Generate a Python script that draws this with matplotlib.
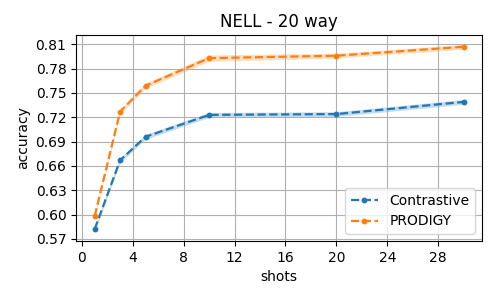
import numpy as np
import matplotlib
matplotlib.use('Agg')
import matplotlib.pyplot as plt

shots = [1, 3, 5, 10, 20, 30]
contrastive = np.array([0.582, 0.667, 0.696, 0.723, 0.724, 0.739])
contrastive_std = np.array([0.003, 0.003, 0.003, 0.003, 0.003, 0.003])
prodigy = np.array([0.598, 0.727, 0.759, 0.793, 0.796, 0.807])
prodigy_std = np.array([0.003, 0.003, 0.003, 0.004, 0.003, 0.003])

fig, ax = plt.subplots(figsize=(4.98, 2.99), dpi=100)
fig.subplots_adjust(left=0.153, right=0.968, top=0.883, bottom=0.194)

for vals, std, name, c in [(contrastive, contrastive_std, 'Contrastive', 'tab:blue'),
                           (prodigy, prodigy_std, 'PRODIGY', 'tab:orange')]:
    ax.plot(shots, vals, '--o', color=c, markersize=3.2, linewidth=1.6, label=name)
    ax.fill_between(shots, vals - std, vals + std, color=c, alpha=0.25, linewidth=0)

ax.set_xticks(np.arange(0, 30, 4))
ax.set_yticks(np.arange(0.57, 0.82, 0.03))
ax.set_yticklabels(['%.2f' % v for v in np.arange(0.57, 0.82, 0.03)])
ax.grid(True)
ax.set_xlabel('shots')
ax.set_ylabel('accuracy')
ax.set_title('NELL - 20 way')
ax.legend(loc='lower right')

plt.savefig('out.png', dpi=100)
